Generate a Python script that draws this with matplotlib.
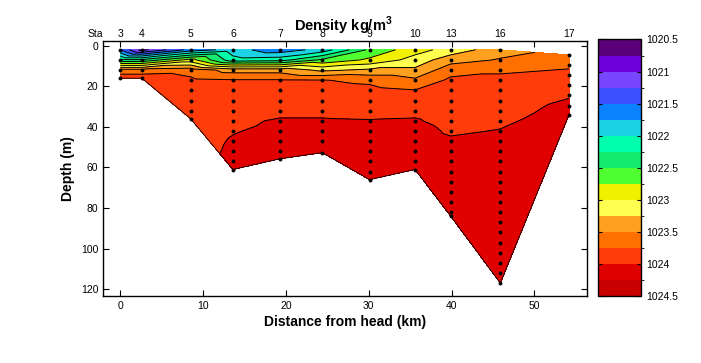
import numpy as np
import matplotlib
matplotlib.use('Agg')
import matplotlib.pyplot as plt
import matplotlib.tri as mtri
from matplotlib.colors import ListedColormap, BoundaryNorm
import matplotlib.colorbar as mcolorbar

plt.rcParams['font.family'] = ['Liberation Sans', 'DejaVu Sans']
plt.rcParams['mathtext.fontset'] = 'custom'
plt.rcParams['mathtext.rm'] = 'Liberation Sans'
plt.rcParams['mathtext.bf'] = 'Liberation Sans:bold'

# ---------------- data ----------------
station_names = ['3', '4', '5', '6', '7', '8', '9', '10', '13', '16', '17']
station_km = [0.0, 2.6, 8.5, 13.6, 19.3, 24.4, 30.1, 35.6, 39.9, 45.9, 54.2]

st3_depth = [2, 7, 12, 16]
st3_rho = [1021.5, 1022.3, 1023.6, 1023.9]
st4_depth = [2, 7, 12, 16]
st4_rho = [1020.9, 1022.3, 1023.6, 1023.9]
st5_depth = [2, 7, 12, 17, 22, 27, 32, 36]
st5_rho = [1021.6, 1022.85, 1023.65, 1023.8, 1023.82, 1023.82, 1023.8, 1023.78]
st6_depth = [2, 7, 12, 17, 22, 27, 32, 37, 42, 47, 52, 57, 61]
st6_rho = [1021.85, 1022.1, 1023.4, 1023.77, 1023.85, 1023.9, 1023.93, 1023.96,
           1023.98, 1024.03, 1024.06, 1024.08, 1024.1]
st7_depth = [2, 7, 12, 17, 22, 27, 32, 37, 42, 47, 52, 55.7]
st7_rho = [1021.6, 1022.15, 1023.4, 1023.77, 1023.85, 1023.9, 1023.95, 1024.02,
           1024.08, 1024.1, 1024.12, 1024.14]
st8_depth = [2, 7, 12, 17, 22, 27, 32, 37, 42, 47, 52.7]
st8_rho = [1021.85, 1022.55, 1023.2, 1023.76, 1023.85, 1023.9, 1023.95, 1024.02,
           1024.08, 1024.1, 1024.12]
st9_depth = [2, 7, 12, 17, 22, 27, 32, 37, 42, 47, 52, 57, 62, 66]
st9_rho = [1022.55, 1022.8, 1023.3, 1023.7, 1023.82, 1023.88, 1023.93, 1024.01,
           1024.06, 1024.1, 1024.12, 1024.13, 1024.14, 1024.15]
st10_depth = [2, 7, 12, 17, 22, 27, 32, 37, 42, 47, 52, 57, 61]
st10_rho = [1022.9, 1023.1, 1023.3, 1023.55, 1023.76, 1023.85, 1023.95, 1024.02,
            1024.08, 1024.1, 1024.12, 1024.13, 1024.14]
st13_depth = [2, 7, 12, 17, 22, 27, 32, 37, 42, 47, 52, 57, 62, 67, 72, 77, 82, 84]
st13_rho = [1023.1, 1023.4, 1023.65, 1023.8, 1023.85, 1023.88, 1023.9, 1023.93,
            1023.97, 1024.03, 1024.08, 1024.1, 1024.11, 1024.12, 1024.13, 1024.14,
            1024.15, 1024.15]
st16_depth = [2, 7, 12, 17, 22, 27, 32, 37, 42, 47, 52, 57, 62, 67, 72, 77, 82,
              87, 92, 97, 102, 107, 112, 117]
st16_rho = [1023.4, 1023.52, 1023.72, 1023.8, 1023.85, 1023.88, 1023.92, 1023.96,
            1024.01, 1024.05, 1024.08, 1024.1, 1024.11, 1024.12, 1024.13, 1024.14,
            1024.15, 1024.16, 1024.17, 1024.18, 1024.18, 1024.19, 1024.2, 1024.2]
st17_depth = [4.5, 9.5, 14.5, 19.5, 24.5, 29.5, 34]
st17_rho = [1023.6, 1023.72, 1023.8, 1023.88, 1023.98, 1024.05, 1024.08]

profile_depths = [st3_depth, st4_depth, st5_depth, st6_depth, st7_depth, st8_depth,
                  st9_depth, st10_depth, st13_depth, st16_depth, st17_depth]
profile_rho = [st3_rho, st4_rho, st5_rho, st6_rho, st7_rho, st8_rho,
               st9_rho, st10_rho, st13_rho, st16_rho, st17_rho]

levels = [1020.5, 1020.75, 1021, 1021.25, 1021.5, 1021.75, 1022, 1022.25, 1022.5,
          1022.75, 1023, 1023.25, 1023.5, 1023.75, 1024, 1024.25, 1024.5]
band_colors = ['#5a0078', '#6e00dc', '#7846ff', '#3c50ff', '#0a82ff', '#1ed2e6',
               '#00ffaa', '#14eb6e', '#50ff32', '#f0f000', '#ffff50', '#ffa01e',
               '#ff7000', '#ff3c0a', '#e10000', '#c80000']
cbar_ticks = [1020.5, 1021, 1021.5, 1022, 1022.5, 1023, 1023.5, 1024, 1024.5]
cbar_labels = ['1020.5', '1021', '1021.5', '1022', '1022.5', '1023', '1023.5',
               '1024', '1024.5']

# ---------------- build triangulation (strip between neighbouring stations) ----
xs, zs, vs = [], [], []
for km, dl, rl in zip(station_km, profile_depths, profile_rho):
    for d, r in zip(dl, rl):
        xs.append(km); zs.append(d); vs.append(r)
xs = np.array(xs, float); zs = np.array(zs, float); vs = np.array(vs, float)
bots = [d[-1] for d in profile_depths]

offsets = np.cumsum([0] + [len(d) for d in profile_depths])
triangles = []
for k in range(len(station_km) - 1):
    A, B = profile_depths[k], profile_depths[k + 1]
    oa, ob = offsets[k], offsets[k + 1]
    i = j = 0
    while i < len(A) - 1 or j < len(B) - 1:
        if j >= len(B) - 1 or (i < len(A) - 1 and A[i + 1] <= B[j + 1]):
            triangles.append([oa + i, oa + i + 1, ob + j]); i += 1
        else:
            triangles.append([oa + i, ob + j + 1, ob + j]); j += 1
tri = mtri.Triangulation(xs, zs, np.array(triangles))

cmap = ListedColormap(band_colors)
norm = BoundaryNorm(levels, cmap.N)

# ---------------- figure ----------------
fig = plt.figure(figsize=(7.01, 3.63), dpi=100)
ax = fig.add_axes([0.1474, 0.1854, 0.6904, 0.7003])
ax.tricontourf(tri, vs, levels=levels, cmap=cmap, norm=norm)
ax.tricontour(tri, vs, levels=levels, colors='k', linewidths=0.7)
ax.plot(station_km, bots, color='k', lw=0.6)
ax.plot(xs, zs, 'o', color='k', ms=2.8, mew=0)

ax.set_xlim(-2.05, 56.4)
ax.set_ylim(123.2, -2.1)
ax.set_xticks([0, 10, 20, 30, 40, 50])
ax.set_yticks([0, 20, 40, 60, 80, 100, 120])
ax.tick_params(direction='in', top=True, right=True, labelsize=7.5, length=4, width=0.8)
for s in ax.spines.values():
    s.set_linewidth(1.0)
ax.set_xlabel('Distance from head (km)', fontsize=10, fontweight='bold', labelpad=3)
ax.set_ylabel('Depth (m)', fontsize=10, fontweight='bold', labelpad=4)

trans = ax.get_xaxis_transform()
for name, km in zip(station_names, station_km):
    ax.text(km, 1.03, name, transform=trans, ha='center', va='center', fontsize=7.5)
ax.text(-3.05, 1.03, 'Sta', transform=trans, ha='center', va='center', fontsize=7.5)

fig.text(0.49, 0.93, r'Density kg/m$^{\mathbf{3}}$', ha='center', va='center',
         fontsize=10.5, fontweight='bold')

cax = fig.add_axes([0.853, 0.1854, 0.0619, 0.7058])
cb = mcolorbar.ColorbarBase(cax, cmap=cmap, norm=norm, boundaries=levels,
                            ticks=cbar_ticks, orientation='vertical')
cb.set_ticklabels(cbar_labels)
cax.invert_yaxis()
cax.tick_params(direction='in', labelsize=7.5, length=3, left=True, right=True)
cb.outline.set_linewidth(1.0)

fig.savefig('out.png', dpi=100)
